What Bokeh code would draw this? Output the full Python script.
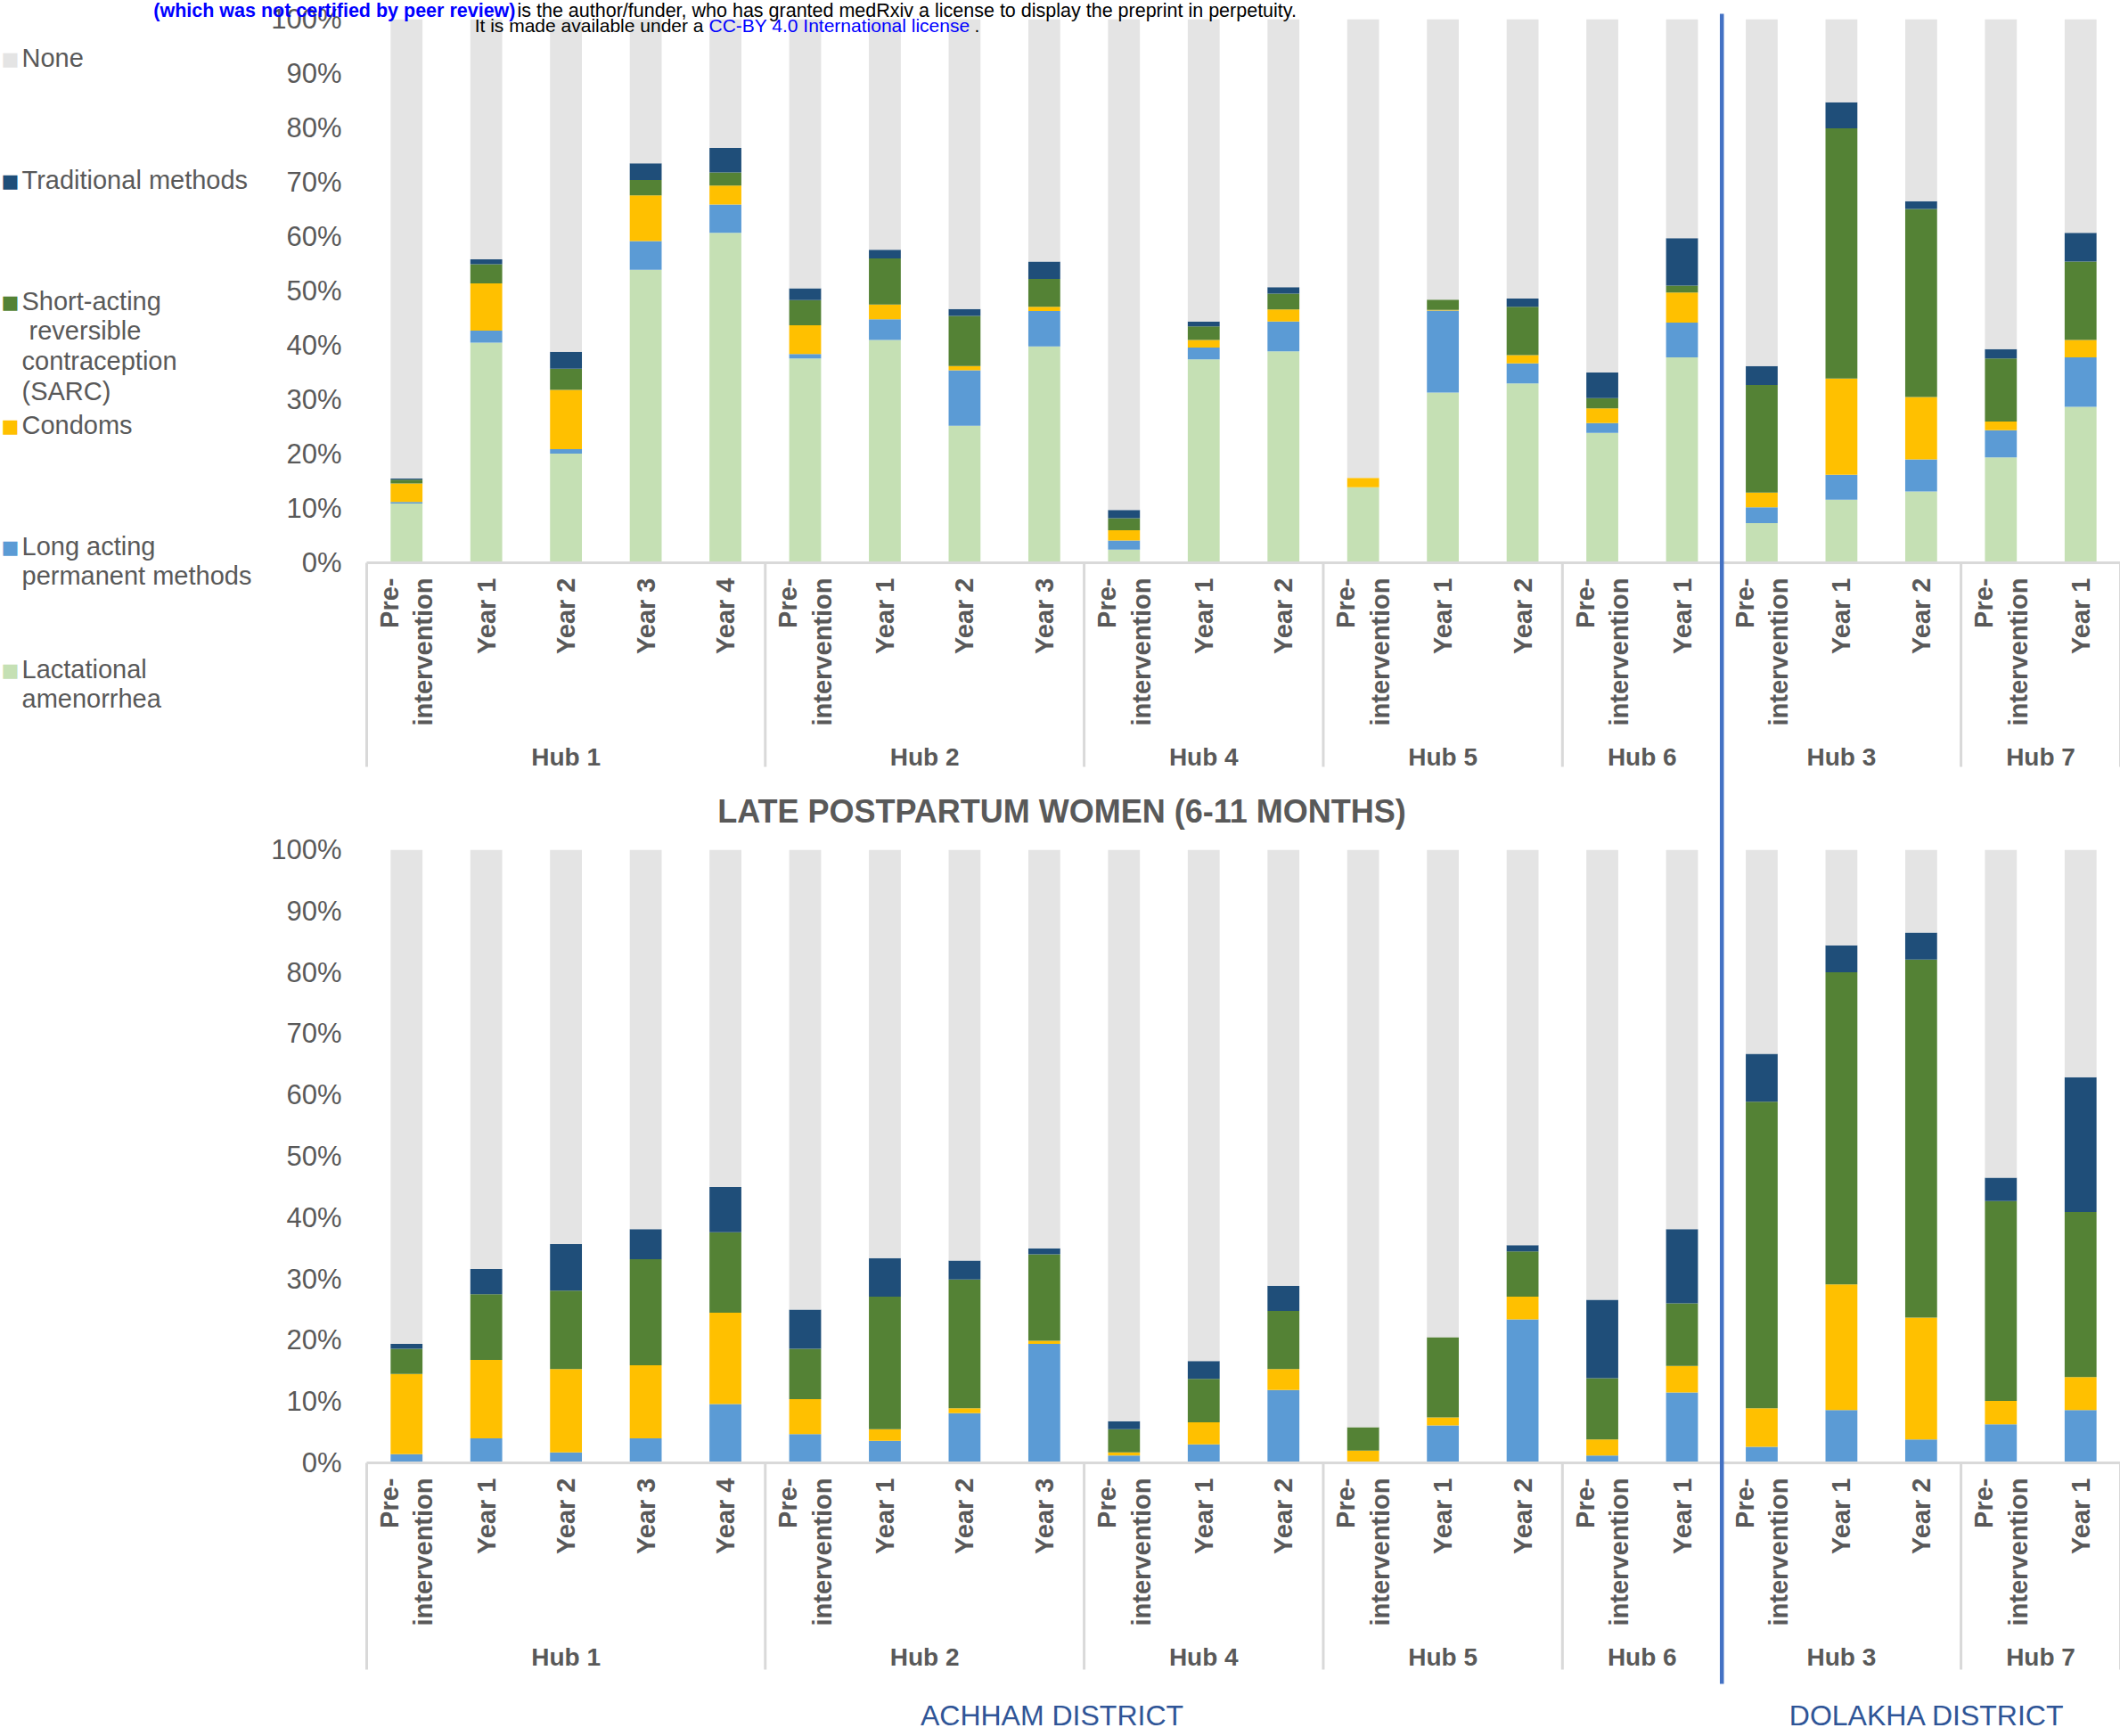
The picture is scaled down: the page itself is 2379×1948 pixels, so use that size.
import math
from bokeh.plotting import figure
from bokeh.models import ColumnDataSource, FactorRange, FixedTicker, PrintfTickFormatter, Range1d
from bokeh.layouts import column
from bokeh.embed import file_html
from bokeh.resources import INLINE
from bokeh.core.properties import value

# ---------------- data ----------------
PRE = "Pre-\nintervention"
hubs = ["Hub 1"] * 5 + ["Hub 2"] * 4 + ["Hub 4"] * 3 + ["Hub 5"] * 3 + ["Hub 6"] * 2 + ["Hub 3"] * 3 + ["Hub 7"] * 2
periods = [PRE, "Year 1", "Year 2", "Year 3", "Year 4",
           PRE, "Year 1", "Year 2", "Year 3",
           PRE, "Year 1", "Year 2",
           PRE, "Year 1", "Year 2",
           PRE, "Year 1",
           PRE, "Year 1", "Year 2",
           PRE, "Year 1"]
districts = ["ACHHAM DISTRICT"] * 17 + ["DOLAKHA DISTRICT"] * 5

methods = ["Lactational amenorrhea", "Long acting permanent methods", "Condoms",
           "Short-acting reversible contraception (SARC)", "Traditional methods", "None"]
legend_labels = ["Lactational\namenorrhea", "Long acting\npermanent methods", "Condoms",
                 "Short-acting\n\u00A0reversible\ncontraception\n(SARC)", "Traditional methods", "None"]
colors = ["#C5E0B4", "#5B9BD5", "#FFC000", "#548235", "#1F4E79", "#E4E4E4"]

# early postpartum (top chart), percent of women
early_lam = [10.9, 40.5, 20.1, 53.9, 60.7, 37.6, 41.0, 25.2, 39.8, 2.4, 37.4, 38.9, 13.9, 31.3, 33.0, 23.9, 37.8, 7.3, 11.6, 13.1, 19.4, 28.7]
early_lapm = [0.3, 2.2, 0.8, 5.3, 5.2, 0.8, 3.8, 10.2, 6.5, 1.7, 2.2, 5.5, 0.0, 15.1, 3.7, 1.8, 6.4, 2.9, 4.6, 5.9, 5.0, 9.1]
early_condoms = [3.4, 8.7, 10.9, 8.4, 3.5, 5.3, 2.7, 0.8, 0.8, 1.9, 1.4, 2.2, 1.7, 0.1, 1.5, 2.7, 5.5, 2.7, 17.7, 11.5, 1.6, 3.2]
early_sarc = [0.7, 3.5, 3.9, 2.8, 2.4, 4.6, 8.5, 9.2, 5.1, 2.2, 2.5, 2.9, 0.0, 1.9, 8.9, 1.9, 1.3, 19.8, 46.0, 34.6, 11.6, 14.4]
early_trad = [0.2, 0.9, 3.1, 3.1, 4.5, 2.2, 1.6, 1.3, 3.2, 1.5, 0.9, 1.2, 0.0, 0.0, 1.5, 4.7, 8.7, 3.5, 4.8, 1.4, 1.7, 5.3]
early_none = [84.5, 44.2, 61.2, 26.5, 23.7, 49.5, 42.4, 53.3, 44.6, 90.3, 55.6, 49.3, 84.4, 51.6, 51.4, 65.0, 40.3, 63.8, 15.3, 33.5, 60.7, 39.3]

# late postpartum (bottom chart), percent of women
late_lam = [0.0] * 22
late_lapm = [1.4, 4.0, 1.7, 4.0, 9.6, 4.7, 3.6, 8.1, 19.4, 1.2, 3.0, 11.9, 0.0, 6.1, 23.4, 1.2, 11.5, 2.6, 8.6, 3.8, 6.3, 8.6]
late_condoms = [13.1, 12.8, 13.6, 11.9, 14.9, 5.7, 1.9, 0.8, 0.5, 0.5, 3.6, 3.4, 2.0, 1.3, 3.7, 2.6, 4.3, 6.3, 20.5, 19.9, 3.8, 5.4]
late_sarc = [4.1, 10.7, 12.8, 17.3, 13.1, 8.2, 21.6, 21.0, 14.1, 3.8, 7.1, 9.5, 3.8, 13.1, 7.4, 10.0, 10.2, 50.0, 50.9, 58.4, 32.6, 26.9]
late_trad = [0.8, 4.1, 7.6, 4.9, 7.4, 6.4, 6.3, 3.1, 1.0, 1.3, 2.9, 4.1, 0.0, 0.0, 1.0, 12.8, 12.1, 7.8, 4.4, 4.4, 3.8, 22.0]
late_none = [80.6, 68.4, 64.3, 61.9, 55.0, 75.0, 66.6, 67.0, 65.0, 93.2, 83.4, 71.1, 94.2, 79.5, 64.5, 73.4, 61.9, 33.3, 15.6, 13.5, 53.5, 37.1]

y_ticks = list(range(0, 101, 10))
late_title = "LATE POSTPARTUM WOMEN (6-11 MONTHS)"

# ---------------- layout constants (canvas pixels) ----------------
W = 2379
LEFT = 411
TOP_H, TOP_T, TOP_FH = 878, 21, 610
BOT_Y0 = TOP_H
BOT_H, BOT_T, BOT_FH = 1070, 75, 688
FONT = "Liberation Sans"
GRAY = "#595959"
SEP = "#D9D9D9"
BLUE_LINE = "#4472C4"

n = len(hubs)
factors = list(zip(hubs, periods))
xr = FactorRange(factors=factors, factor_padding=0, group_padding=0, subgroup_padding=0, range_padding=0)
ppc = (W - LEFT) / n

bounds = [0] + [i for i in range(1, n) if hubs[i] != hubs[i - 1]] + [n]
split = [i for i in range(1, n) if districts[i] != districts[i - 1]][0]


def px_to_y(canvas_y, top, fh):
    return (top + fh - canvas_y) / fh * 100.0


def add_text(p, top, fh, cx, cy, txt, **kw):
    # anchored inside the plot frame, shifted in screen pixels to its place
    ax, ay = 0.5, 50.0
    sx = LEFT + ax * ppc
    sy = top + fh / 2.0
    p.text(x=[ax], y=[ay], text=[txt], x_offset=cx - sx, y_offset=cy - sy, level="overlay",
           text_font=value(kw.pop("font", FONT)), **kw)


def make_fig(height, top, fh, series):
    p = figure(x_range=xr, y_range=Range1d(0, 100), width=W, height=height, title=None,
               output_backend="svg", toolbar_location=None,
               min_border_left=LEFT, min_border_right=0, min_border_top=top,
               min_border_bottom=height - top - fh)
    p.outline_line_color = None
    p.grid.visible = False
    p.background_fill_color = "white"
    p.border_fill_color = "white"

    data = {"x": factors}
    for m, s in zip(methods, series):
        data[m] = s
    src = ColumnDataSource(data)
    rs = p.vbar_stack(methods, x="x", width=0.4, source=src, fill_color=colors, line_color=None)

    xa = p.xaxis[0]
    xa.axis_line_color = SEP
    xa.axis_line_width = 3
    xa.major_tick_line_color = None
    xa.minor_tick_line_color = None
    xa.major_tick_out = 0
    xa.major_tick_in = 0
    xa.major_label_orientation = math.pi / 2
    xa.major_label_standoff = 17
    xa.major_label_text_font = FONT
    xa.major_label_text_font_size = "29px"
    xa.major_label_text_font_style = "bold"
    xa.major_label_text_color = GRAY
    xa.group_text_font = FONT
    xa.group_text_font_size = "28px"
    xa.group_text_font_style = "bold"
    xa.group_text_color = GRAY
    xa.group_label_orientation = "horizontal"
    xa.separator_line_alpha = 0

    ya = p.yaxis[0]
    ya.ticker = FixedTicker(ticks=y_ticks)
    ya.formatter = PrintfTickFormatter(format="%d%%")
    ya.axis_line_color = None
    ya.major_tick_line_color = None
    ya.minor_tick_line_color = None
    ya.major_tick_out = 0
    ya.major_tick_in = 0
    ya.major_label_standoff = 28
    ya.major_label_text_font = FONT
    ya.major_label_text_font_size = "31px"
    ya.major_label_text_color = GRAY
    return p, rs


# ---------------- top chart ----------------
pt, rs_top = make_fig(TOP_H, TOP_T, TOP_FH,
                      [early_lam, early_lapm, early_condoms, early_sarc, early_trad, early_none])
pt.segment(x0=bounds, y0=[0] * len(bounds), x1=bounds, y1=[px_to_y(860, TOP_T, TOP_FH)] * len(bounds),
           line_color=SEP, line_width=3, level="overlay")
pt.segment(x0=[split], y0=[px_to_y(15, TOP_T, TOP_FH)], x1=[split], y1=[px_to_y(TOP_H + 20, TOP_T, TOP_FH)],
           line_color=BLUE_LINE, line_width=4.5, level="overlay")

# legend: None at top ... Lactational amenorrhea at the bottom
leg_centers = [65, 202, 338, 477, 613, 751]
for c, i in zip(leg_centers, range(len(methods) - 1, -1, -1)):
    add_text(pt, TOP_T, TOP_FH, 11, c, "\u25A0", font="DejaVu Sans", text_font_size="21px",
             text_color=colors[i], text_align="center", text_baseline="middle")
    add_text(pt, TOP_T, TOP_FH, 24, c - 17, legend_labels[i], text_font_size="29px", text_color=GRAY,
             text_align="left", text_baseline="top", text_line_height=1.06)

# preprint header
add_text(pt, TOP_T, TOP_FH, 578, 11, "(which was not certified by peer review)", text_font_size="21.5px",
         text_font_style="bold", text_color="#0000FF", text_align="right", text_baseline="middle")
add_text(pt, TOP_T, TOP_FH, 580, 11,
         " is the author/funder, who has granted medRxiv a license to display the preprint in perpetuity.",
         text_font_size="21.5px", text_color="#000000", text_align="left", text_baseline="middle")
add_text(pt, TOP_T, TOP_FH, 789, 28, "It is made available under a", text_font_size="21px",
         text_color="#000000", text_align="right", text_baseline="middle")
add_text(pt, TOP_T, TOP_FH, 795, 28, "CC-BY 4.0 International license", text_font_size="21px",
         text_color="#0000FF", text_align="left", text_baseline="middle")
add_text(pt, TOP_T, TOP_FH, 1093, 28, ".", text_font_size="21px",
         text_color="#000000", text_align="left", text_baseline="middle")

# ---------------- bottom chart ----------------
pb, rs_bot = make_fig(BOT_H, BOT_T, BOT_FH,
                      [late_lam, late_lapm, late_condoms, late_sarc, late_trad, late_none])
pb.segment(x0=bounds, y0=[0] * len(bounds), x1=bounds, y1=[px_to_y(1873 - BOT_Y0, BOT_T, BOT_FH)] * len(bounds),
           line_color=SEP, line_width=3, level="overlay")
pb.segment(x0=[split], y0=[px_to_y(-20, BOT_T, BOT_FH)], x1=[split], y1=[px_to_y(1889 - BOT_Y0, BOT_T, BOT_FH)],
           line_color=BLUE_LINE, line_width=4.5, level="overlay")

add_text(pb, BOT_T, BOT_FH, 1191, 910 - BOT_Y0, late_title, text_font_size="36px", text_font_style="bold",
         text_color=GRAY, text_align="center", text_baseline="middle")

for d, cx in [("ACHHAM DISTRICT", 1180), ("DOLAKHA DISTRICT", 2162)]:
    add_text(pb, BOT_T, BOT_FH, cx, 1924 - BOT_Y0, d, text_font_size="32px",
             text_color="#2F5597", text_align="center", text_baseline="middle")

layout = column(pt, pb, spacing=0)
open("out.html", "w").write(file_html(layout, INLINE))
